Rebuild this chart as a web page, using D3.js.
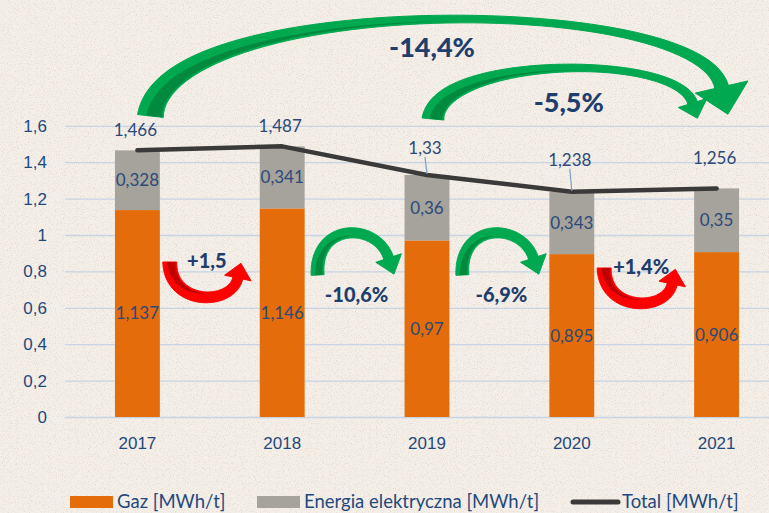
<!DOCTYPE html>
<html>
<head>
<meta charset="utf-8">
<script src="https://cdn.jsdelivr.net/npm/d3@7"></script>
<style>
  body { margin: 0; background: #f4efe8; }
  svg { display: block; font-family: Lato, "Open Sans", sans-serif; }
</style>
</head>
<body>
<div id="chart"></div>
<script>
// values
var years = ["2017", "2018", "2019", "2020", "2021"];
var gaz = [1.137, 1.146, 0.97, 0.895, 0.906];
var energia = [0.328, 0.341, 0.36, 0.343, 0.35];
var total = [1.466, 1.487, 1.33, 1.238, 1.256];
var yTicks = [0, 0.2, 0.4, 0.6, 0.8, 1, 1.2, 1.4, 1.6];
var seriesNames = ["Gaz [MWh/t]", "Energia elektryczna [MWh/t]", "Total  [MWh/t]"];

// year-to-year changes shown by the small arrows, and the long ones
var steps = [
  { from: 0, label: "+1,5", up: true },
  { from: 1, label: "-10,6%", up: false },
  { from: 2, label: "-6,9%", up: false },
  { from: 3, label: "+1,4%", up: true }
];
var longChanges = [
  { from: 0, to: 4, label: "-14,4%" },
  { from: 2, to: 4, label: "-5,5%" }
];

// label offsets above the total line, and which ones have a leader
var totalLabelDy = [20, 20, 27, 32, 30];
var totalLeader = [false, false, true, true, false];

var W = 769, H = 513;
var navy = "#1f497d", labelCol = "#2b4a78";
var orange = "#e46c0a", grey = "#a6a29c";
var green = "#00a84f", greenDark = "#008a3f", red = "#ff0000", redDark = "#c00000";

var svg = d3.select("#chart").append("svg")
    .attr("width", W)
    .attr("height", H);

// paper background
var defs = svg.append("defs");
var f = defs.append("filter").attr("id", "grain")
    .attr("x", 0).attr("y", 0).attr("width", "100%").attr("height", "100%");
f.append("feTurbulence").attr("type", "fractalNoise").attr("baseFrequency", 0.85)
    .attr("numOctaves", 2).attr("seed", 7).attr("result", "n");
f.append("feColorMatrix").attr("in", "n").attr("type", "matrix")
    .attr("values", "0 0 0 0 0.62  0 0 0 0 0.52  0 0 0 0 0.44  3 0 0 0 -1.55");

svg.append("rect").attr("width", W).attr("height", H).attr("fill", "#f4efe8");
svg.append("rect").attr("width", W).attr("height", H)
    .attr("filter", "url(#grain)").attr("opacity", 0.5);

var x = d3.scaleBand()
    .domain(years)
    .range([65, 789])
    .paddingInner(0.69)
    .paddingOuter(0.345);

var y = d3.scaleLinear()
    .domain([0, 1.6])
    .range([417, 125.8]);

var comma = function (v) { return String(+v.toFixed(3)).replace(".", ","); };
var cx = function (i) { return x(years[i]) + x.bandwidth() / 2; };
var gapX = function (i) { return (x(years[i]) + x.bandwidth() + x(years[i + 1])) / 2; };

// gridlines
svg.append("g")
    .attr("transform", "translate(65,0)")
    .call(d3.axisLeft(y).tickValues(yTicks).tickSize(-(W - 65)).tickFormat(""))
    .call(function (g) { g.select(".domain").remove(); })
    .selectAll("line")
    .attr("stroke", "#c6d4e5")
    .attr("stroke-width", 1.3);

// y labels
svg.append("g")
    .attr("transform", "translate(65,0)")
    .call(d3.axisLeft(y).tickValues(yTicks).tickSize(0).tickPadding(18).tickFormat(comma))
    .call(function (g) { g.select(".domain").remove(); })
    .selectAll("text")
    .attr("fill", navy)
    .style("font-size", "17px");

// x labels
svg.append("g")
    .attr("transform", "translate(0,417)")
    .call(d3.axisBottom(x).tickSize(0).tickPadding(20))
    .call(function (g) { g.select(".domain").remove(); })
    .selectAll("text")
    .attr("fill", navy)
    .style("font-size", "17px");

// stacked bars
var rows = years.map(function (yr, i) { return { year: yr, gaz: gaz[i], energia: energia[i] }; });
var stack = d3.stack().keys(["gaz", "energia"])(rows);
var colors = [orange, grey];

stack.forEach(function (layer, k) {
    svg.append("g").selectAll("rect")
        .data(layer)
        .enter()
        .append("rect")
        .attr("x", function (d) { return x(d.data.year); })
        .attr("y", function (d) { return y(d[1]); })
        .attr("width", x.bandwidth())
        .attr("height", function (d) { return y(d[0]) - y(d[1]); })
        .attr("fill", colors[k]);

    svg.append("g").selectAll("text")
        .data(layer)
        .enter()
        .append("text")
        .attr("x", function (d) { return x(d.data.year) + x.bandwidth() / 2; })
        .attr("y", function (d) { return (y(d[0]) + y(d[1])) / 2; })
        .attr("dy", "0.35em")
        .attr("text-anchor", "middle")
        .attr("fill", labelCol)
        .style("font-size", "17px")
        .text(function (d) { return comma(d[1] - d[0]); });
});

// total line
var line = d3.line()
    .x(function (d, i) { return cx(i); })
    .y(function (d) { return y(d); });

svg.append("path")
    .datum(total)
    .attr("d", line)
    .attr("fill", "none")
    .attr("stroke", "#3a3a3a")
    .attr("stroke-width", 4.5)
    .attr("stroke-linecap", "round")
    .attr("stroke-linejoin", "round");

total.forEach(function (v, i) {
    var ly = y(v) - totalLabelDy[i];
    if (totalLeader[i]) {
        svg.append("line")
            .attr("x1", cx(i) - 2).attr("y1", ly + 9)
            .attr("x2", cx(i)).attr("y2", y(v) - 1)
            .attr("stroke", "#7f9fc6").attr("stroke-width", 1.2);
    }
    svg.append("text")
        .attr("x", cx(i) - 2)
        .attr("y", ly)
        .attr("dy", "0.35em")
        .attr("text-anchor", "middle")
        .attr("fill", labelCol)
        .style("font-size", "17px")
        .text(comma(v));
});

// tapered curved arrow along a cubic bezier
function arrow(p, w, head, fill, dark, side) {
    var bez = function (t) {
        var a = (1 - t) * (1 - t) * (1 - t), b = 3 * (1 - t) * (1 - t) * t, c = 3 * (1 - t) * t * t, e = t * t * t;
        return [a * p[0][0] + b * p[1][0] + c * p[2][0] + e * p[3][0],
                a * p[0][1] + b * p[1][1] + c * p[2][1] + e * p[3][1]];
    };
    var der = function (t) {
        var a = 3 * (1 - t) * (1 - t), b = 6 * (1 - t) * t, c = 3 * t * t;
        var dx = a * (p[1][0] - p[0][0]) + b * (p[2][0] - p[1][0]) + c * (p[3][0] - p[2][0]);
        var dy = a * (p[1][1] - p[0][1]) + b * (p[2][1] - p[1][1]) + c * (p[3][1] - p[2][1]);
        var l = Math.sqrt(dx * dx + dy * dy) || 1;
        return [dx / l, dy / l];
    };
    var width = function (t) {
        return w[0] * (1 - t) * (1 - t) + 2 * w[1] * t * (1 - t) + w[2] * t * t;
    };
    var N = 60, left = [], right = [], s1 = [], s2 = [];
    for (var i = 0; i <= N; i++) {
        var t = i / N, pt = bez(t), d = der(t), n = [-d[1], d[0]], hw = width(t) / 2;
        left.push([pt[0] + n[0] * hw, pt[1] + n[1] * hw]);
        right.push([pt[0] - n[0] * hw, pt[1] - n[1] * hw]);
        if (t <= 0.55) {
            var ws = width(t) * 0.6 * (1 - t / 0.55);
            s1.push([pt[0] + side * n[0] * (hw - 1.5), pt[1] + side * n[1] * (hw - 1.5)]);
            s2.push([pt[0] + side * n[0] * (hw - 1.5 - ws), pt[1] + side * n[1] * (hw - 1.5 - ws)]);
        }
    }
    var g = svg.append("g");
    g.append("path")
        .attr("d", "M" + left.join("L") + "L" + right.reverse().join("L") + "Z")
        .attr("fill", fill).attr("stroke", fill).attr("stroke-width", 1);
    g.append("path")
        .attr("d", "M" + s1.join("L") + "L" + s2.reverse().join("L") + "Z")
        .attr("fill", dark);
    var u = der(1), nn = [-u[1], u[0]], e = p[3];
    var h = [[e[0] + nn[0] * head[1] / 2, e[1] + nn[1] * head[1] / 2],
             [e[0] + u[0] * head[0], e[1] + u[1] * head[0]],
             [e[0] - nn[0] * head[1] / 2, e[1] - nn[1] * head[1] / 2]];
    g.append("path")
        .attr("d", "M" + h.join("L") + "Z")
        .attr("fill", fill).attr("stroke", fill).attr("stroke-width", 1).attr("stroke-linejoin", "round");
}

function label(tx, ty, text, size) {
    svg.append("text")
        .attr("x", tx).attr("y", ty)
        .attr("dy", "0.35em")
        .attr("text-anchor", "middle")
        .attr("fill", "#1f3e6e")
        .style("font-size", size + "px")
        .style("font-weight", 900)
        .text(text);
}

// long arrows over the chart
longChanges.forEach(function (c, k) {
    var a = cx(c.from), b = cx(c.to);
    if (k === 0) {
        arrow([[a + 13, 116], [a + 27, -8], [b - 17, -8], [b + 5, 87]], [26, -4, 14], [28, 54], green, greenDark, 1);
        label((a + b) / 2 + 5, 48, c.label, 27);
    } else {
        arrow([[a + 6, 119], [a + 12, 56], [b - 40, 52], [b - 24, 103]], [22, 0, 10], [16, 30], green, greenDark, 1);
        label((a + b) / 2 - 3, 103, c.label, 27);
    }
});

// small arrows between bars
steps.forEach(function (s) {
    var g = gapX(s.from);
    if (s.up) {
        var top = s.from === 0 ? 262 : 268;
        arrow([[g - 40, top], [g - 40, top + 44], [g + 22, top + 44], [g + 28, top + 16]], [14, 10, 10], [15, 27], red, redDark, -1);
        label(g - 3, top - 1, s.label, 20);
    } else {
        arrow([[g - 37, 275], [g - 40, 222], [g + 22, 222], [g + 34, 258]], [13, 9, 10], [17, 27], green, greenDark, 1);
        label(g + 2, 295, s.label, 20);
    }
});

// legend
var legend = svg.append("g").attr("transform", "translate(0,502)");
var legendX = [70, 257, 571];
seriesNames.forEach(function (name, i) {
    var lg = legend.append("g").attr("transform", "translate(" + legendX[i] + ",0)");
    if (i < 2) {
        lg.append("rect").attr("x", 0).attr("y", -6).attr("width", 43).attr("height", 12)
            .attr("fill", colors[i]);
    } else {
        lg.append("line").attr("x1", 2).attr("x2", 47).attr("y1", 0).attr("y2", 0)
            .attr("stroke", "#3a3a3a").attr("stroke-width", 5).attr("stroke-linecap", "round");
    }
    lg.append("text")
        .attr("x", i < 2 ? 47 : 51)
        .attr("dy", "0.35em")
        .attr("fill", navy)
        .style("font-size", "18.5px")
        .text(name);
});
</script>
</body>
</html>
